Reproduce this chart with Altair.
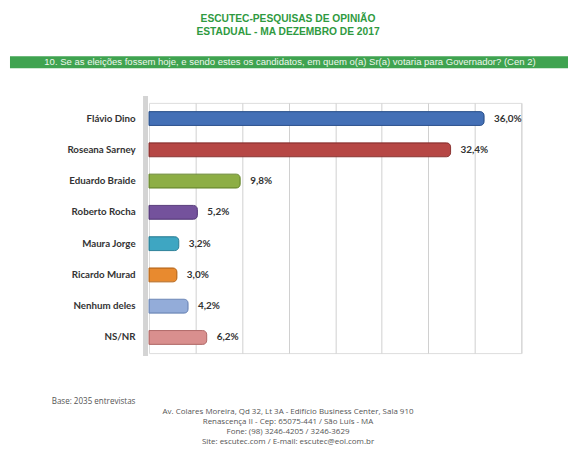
import altair as alt
import pandas as pd

candidates = ["Flávio Dino", "Roseana Sarney", "Eduardo Braide", "Roberto Rocha",
              "Maura Jorge", "Ricardo Murad", "Nenhum deles", "NS/NR"]
values = [36.0, 32.4, 9.8, 5.2, 3.2, 3.0, 4.2, 6.2]
colors = ["#4470b6", "#b64745", "#8dae45", "#74529c", "#3ea6c2", "#e88a2f", "#93acd9", "#d98f8e"]
strokes = ["#2f558f", "#8c3331", "#6b8a30", "#573b7a", "#2a8098", "#b86a1e", "#6f89b8", "#b26c6b"]

title_lines = ["ESCUTEC-PESQUISAS DE OPINIÃO", "ESTADUAL - MA DEZEMBRO DE 2017"]
question = "10. Se as eleições fossem hoje, e sendo estes os candidatos, em quem o(a) Sr(a) votaria para Governador? (Cen 2)"
base_note = "Base: 2035 entrevistas"
footer_lines = ["Av. Colares Moreira, Qd 32, Lt 3A - Edifício Business Center, Sala 910",
                "Renascença II - Cep: 65075-441 / São Luís - MA",
                "Fone: (98) 3246-4205 / 3246-3629",
                "Site: escutec.com / E-mail: escutec@eol.com.br"]

df = pd.DataFrame({
    "cand": candidates,
    "val": values,
    "label": [f"{v:.1f}%".replace(".", ",") for v in values],
})

W, H = 375, 252
PL, PT = 142, 94

y_enc = alt.Y("cand:N", sort=candidates,
              axis=alt.Axis(title=None, domain=False, ticks=False, labelPadding=14,
                            labelFont="Lato", labelFontWeight="bold", labelFontSize=9.8,
                            labelColor="#333333"))
x_scale = alt.Scale(domain=[0, 40], nice=False)

one = pd.DataFrame({"a": [0]})

wall = alt.Chart(one).mark_rect(color="#d4d4d4").encode(
    x=alt.value(-6), x2=alt.value(-1), y=alt.value(-7), y2=alt.value(H + 3))

bars = alt.Chart(df).mark_bar(size=14, cornerRadiusEnd=4, strokeWidth=1).encode(
    x=alt.X("val:Q", scale=x_scale,
            axis=alt.Axis(title=None, labels=False, ticks=False, domain=False,
                          grid=True, gridColor="#d0d0d0", values=[5, 10, 15, 20, 25, 30, 35, 40])),
    y=y_enc,
    color=alt.Color("cand:N", scale=alt.Scale(domain=candidates, range=colors), legend=None),
    stroke=alt.Stroke("cand:N", scale=alt.Scale(domain=candidates, range=strokes), legend=None),
)

labels = alt.Chart(df).mark_text(align="left", baseline="middle", dx=10, font="Lato",
                                 fontWeight="bold", fontSize=10, color="#333333").encode(
    x=alt.X("val:Q", scale=x_scale), y=alt.Y("cand:N", sort=candidates), text="label:N")


def text_line(txt, x, y, **kw):
    return alt.Chart(pd.DataFrame({"t": [txt]})).mark_text(baseline="middle", **kw).encode(
        x=alt.value(x), y=alt.value(y), text="t:N")


layers = [wall, bars, labels]
for i, t in enumerate(title_lines):
    layers.append(text_line(t, 140, -84 + 12.5 * i, font="Liberation Sans", fontWeight="bold",
                            fontSize=10.3, color="#2f9a3f", align="center"))

banner = alt.Chart(one).mark_rect(color="#3fa350").encode(
    x=alt.value(-140), x2=alt.value(424), y=alt.value(-47), y2=alt.value(-35))
layers.append(banner)
layers.append(text_line(question, 142, -41, font="Liberation Sans", fontSize=9.6,
                        color="#eef7ee", align="center"))
layers.append(text_line(base_note, -98, 301, font="Open Sans", fontSize=8.1,
                        color="#555555", align="left"))
for i, t in enumerate(footer_lines):
    layers.append(text_line(t, 140, 311 + 10.3 * i, font="Open Sans", fontSize=8,
                            color="#555555", align="center"))

chart = alt.layer(*layers).properties(
    width=W, height=H,
    autosize=alt.AutoSizeParams(type="none"),
    padding={"left": PL, "top": PT, "right": 47, "bottom": 94},
).configure_view(stroke=None).configure(background="white")

chart.save("out.html", embed_options={"renderer": "svg", "actions": False})
